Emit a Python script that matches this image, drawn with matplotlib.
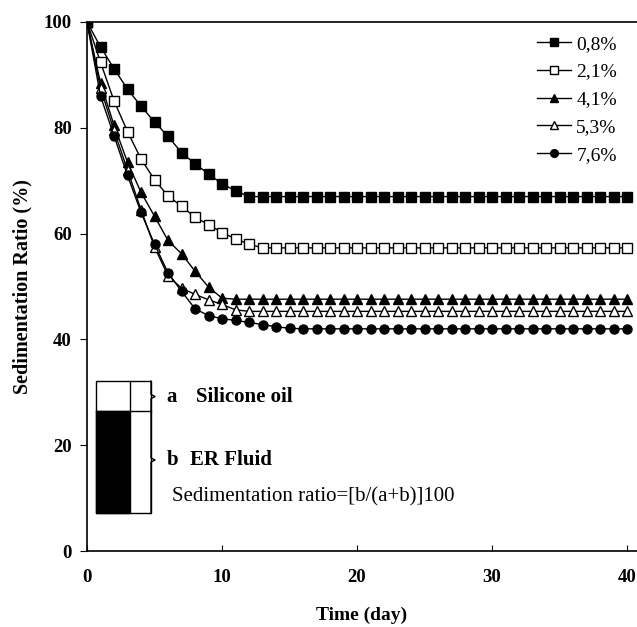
import matplotlib
matplotlib.use("Agg")
import matplotlib.pyplot as plt

plt.rcParams['font.family'] = ['Liberation Serif', 'DejaVu Serif']

days = list(range(41))

# sedimentation ratio (%), one value per day
s08 = [100, 95.3, 91.2, 87.3, 84.1, 81.1, 78.4, 75.3, 73.2, 71.3, 69.4, 68.1, 67.0,
       67.0, 67.0, 67.0, 67.0, 67.0, 67.0, 67.0, 67.0, 67.0, 67.0, 67.0, 67.0, 67.0,
       67.0, 67.0, 67.0, 67.0, 67.0, 67.0, 67.0, 67.0, 67.0, 67.0, 67.0, 67.0, 67.0,
       67.0, 67.0]
s21 = [100, 92.4, 85.1, 79.3, 74.1, 70.2, 67.1, 65.2, 63.1, 61.7, 60.2, 59.0, 58.0,
       57.3, 57.3, 57.3, 57.3, 57.3, 57.3, 57.3, 57.3, 57.3, 57.3, 57.3, 57.3, 57.3,
       57.3, 57.3, 57.3, 57.3, 57.3, 57.3, 57.3, 57.3, 57.3, 57.3, 57.3, 57.3, 57.3,
       57.3, 57.3]
s41 = [100, 88.5, 80.5, 73.5, 67.8, 63.3, 58.7, 56.2, 52.9, 49.9, 47.8, 47.6, 47.6,
       47.6, 47.6, 47.6, 47.6, 47.6, 47.6, 47.6, 47.6, 47.6, 47.6, 47.6, 47.6, 47.6,
       47.6, 47.6, 47.6, 47.6, 47.6, 47.6, 47.6, 47.6, 47.6, 47.6, 47.6, 47.6, 47.6,
       47.6, 47.6]
s53 = [100, 87.5, 79.5, 72.0, 64.5, 57.5, 52.0, 49.7, 48.5, 47.5, 46.6, 45.6, 45.3,
       45.3, 45.3, 45.3, 45.3, 45.3, 45.3, 45.3, 45.3, 45.3, 45.3, 45.3, 45.3, 45.3,
       45.3, 45.3, 45.3, 45.3, 45.3, 45.3, 45.3, 45.3, 45.3, 45.3, 45.3, 45.3, 45.3,
       45.3, 45.3]
s76 = [100, 86.0, 78.5, 71.0, 64.0, 58.0, 52.6, 49.1, 45.8, 44.5, 43.9, 43.6, 43.2,
       42.8, 42.4, 42.1, 42.0, 42.0, 42.0, 42.0, 42.0, 42.0, 42.0, 42.0, 42.0, 42.0,
       42.0, 42.0, 42.0, 42.0, 42.0, 42.0, 42.0, 42.0, 42.0, 42.0, 42.0, 42.0, 42.0,
       42.0, 42.0]

labels = ['0,8%', '2,1%', '4,1%', '5,3%', '7,6%']
series = [s08, s21, s41, s53, s76]
markers = ['s', 's', '^', '^', 'o']
fills = ['black', 'white', 'black', 'white', 'black']

fig = plt.figure(figsize=(6.37, 6.27), dpi=100)
ax = fig.add_axes([87 / 637, 76 / 627, 550 / 637, 529 / 627])

for vals, lab, m, fc in zip(series, labels, markers, fills):
    ax.plot(days, vals, color='black', lw=1.0, marker=m, ms=6.5,
            mfc=fc, mec='black', mew=1.0, label=lab)

ax.set_xlim(0, 40.74)
ax.set_ylim(0, 100)
ax.spines['right'].set_visible(False)
for sp in ['top', 'left', 'bottom']:
    ax.spines[sp].set_linewidth(1.2)
ax.set_xticks([0, 10, 20, 30, 40])
ax.set_yticks([0, 20, 40, 60, 80, 100])
ax.tick_params(axis='x', direction='in', length=4, pad=13, labelsize=13.5)
ax.tick_params(axis='y', direction='out', length=5, pad=6, labelsize=13.5)
for t in ax.get_xticklabels() + ax.get_yticklabels():
    t.set_fontweight('bold')

ax.set_xlabel('Time (day)', fontsize=14, fontweight='bold', labelpad=15)
ax.set_ylabel('Sedimentation Ratio (%)', fontsize=14.5, fontweight='bold', labelpad=8)

leg = ax.legend(loc='upper right', bbox_to_anchor=(0.985, 0.997), frameon=False,
                fontsize=14, handlelength=1.7, handletextpad=0.3,
                labelspacing=0.52, borderaxespad=0.2, markerscale=0.85)

# inset sketch of the settled fluid column
ax.add_patch(plt.Rectangle((0.67, 7.1), 2.52, 19.3, facecolor='black',
                           edgecolor='black', lw=1.0))
ax.add_patch(plt.Rectangle((0.67, 7.1), 4.07, 25.0, facecolor='none',
                           edgecolor='black', lw=1.0))
ax.plot([0.67, 4.74], [26.4, 26.4], color='black', lw=1.0)
ax.plot([3.19, 3.19], [26.4, 32.1], color='black', lw=1.0)
# braces
ax.plot([4.74, 4.74, 5.04, 4.74, 4.74], [32.1, 29.6, 29.2, 28.8, 26.4],
        color='black', lw=1.0)
ax.plot([4.74, 4.74, 5.04, 4.74, 4.74], [26.4, 17.6, 17.2, 16.8, 7.1],
        color='black', lw=1.0)

ax.text(5.9, 29.2, 'a', fontsize=15, fontweight='bold', va='center')
ax.text(8.07, 29.2, 'Silicone oil', fontsize=15, fontweight='bold', va='center')
ax.text(5.9, 17.2, 'b', fontsize=15, fontweight='bold', va='center')
ax.text(7.63, 17.2, 'ER Fluid', fontsize=15, fontweight='bold', va='center')
ax.text(6.27, 10.3, 'Sedimentation ratio=[b/(a+b)]100', fontsize=15, va='center')

fig.savefig('out.png', dpi=100)
